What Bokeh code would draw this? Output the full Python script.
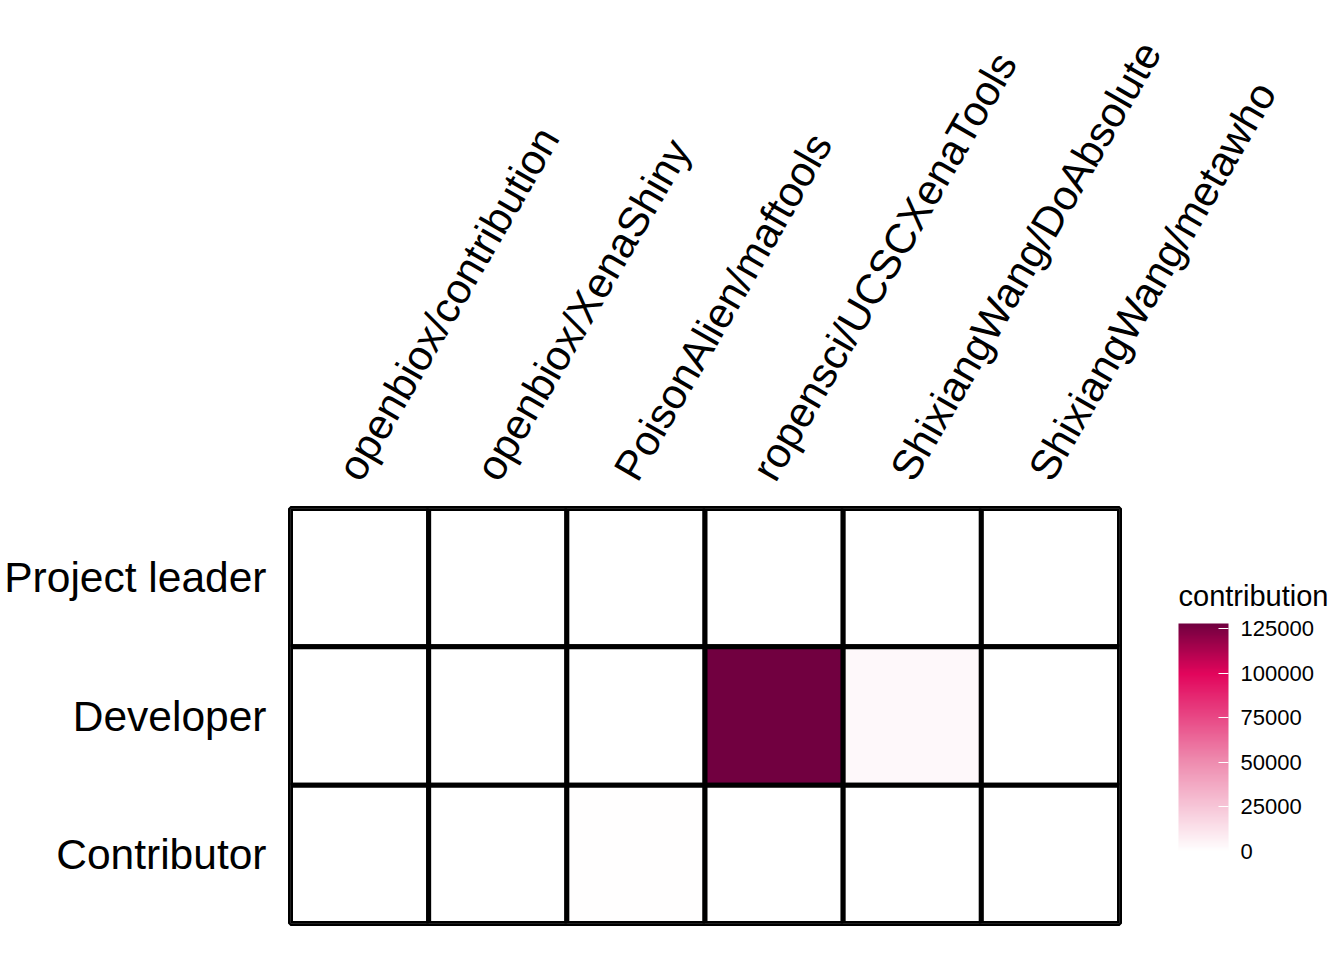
import math
import numpy as np
from bokeh.plotting import figure
from bokeh.models import (ColumnDataSource, LinearColorMapper, ColorBar, FixedTicker,
                          FactorRange, BasicTickFormatter, Label, Range1d)
from bokeh.embed import file_html
from bokeh.resources import INLINE
from bokeh.transform import transform

# ---- data ----
repos = ["openbiox/contribution", "openbiox/XenaShiny", "PoisonAlien/maftools",
         "ropensci/UCSCXenaTools", "ShixiangWang/DoAbsolute", "ShixiangWang/metawho"]
roles = ["Project leader", "Developer", "Contributor"]
project_leader = [0, 0, 0, 0, 0, 0]
developer = [0, 0, 0, 127800, 3000, 0]
contributor = [0, 0, 800, 0, 0, 0]
legend_ticks = [0, 25000, 50000, 75000, 100000, 125000]
legend_title = "contribution"

rows = {"Project leader": project_leader, "Developer": developer, "Contributor": contributor}
xs, ys, vals = [], [], []
for role in roles:
    for j, v in enumerate(rows[role]):
        xs.append(j + 0.5)          # column slot of repos[j]
        ys.append(role)
        vals.append(v)
source = ColumnDataSource(dict(x=xs, role=ys, value=vals))

# ---- palette ----
def hex2rgb(h):
    h = h.lstrip("#")
    return np.array([int(h[i:i + 2], 16) for i in (0, 2, 4)], dtype=float)

stops = [(0.0, "#FFFFFF"), (0.40, "#EE8AAE"), (0.78, "#E2055C"), (1.0, "#710040")]
palette = []
for t in np.linspace(0, 1, 256):
    for (t0, c0), (t1, c1) in zip(stops[:-1], stops[1:]):
        if t0 <= t <= t1:
            f = (t - t0) / (t1 - t0)
            c = hex2rgb(c0) * (1 - f) + hex2rgb(c1) * f
            palette.append("#%02x%02x%02x" % tuple(int(round(x)) for x in c))
            break

mapper = LinearColorMapper(palette=palette, low=0, high=max(vals))

p = figure(width=1344, height=960, output_backend="svg", toolbar_location=None,
           x_range=Range1d(0, len(repos)), y_range=FactorRange(*reversed(roles)),
           x_axis_location="above",
           min_border_left=290, min_border_right=225, min_border_top=508, min_border_bottom=37)

p.rect(x="x", y="role", width=1, height=1, source=source,
       fill_color=transform("value", mapper), line_color="black", line_width=5)

p.outline_line_color = "black"
p.outline_line_width = 5
p.grid.grid_line_color = None
p.background_fill_color = "white"
p.border_fill_color = "white"

# top labels: anchor nudged like ggplot's hjust for rotated text
nudge = 0.08
tick_pos = [i + 0.5 - nudge for i in range(len(repos))]
top = p.xaxis[0]
top.ticker = FixedTicker(ticks=tick_pos)
top.major_label_overrides = {t: r for t, r in zip(tick_pos, repos)}

for ax in (top, p.yaxis[0]):
    ax.axis_line_color = None
    ax.major_tick_line_color = None
    ax.minor_tick_line_color = None
    ax.major_tick_out = 0
    ax.major_tick_in = 0
    ax.major_label_text_font = "Liberation Sans"
    ax.major_label_text_color = "black"

top.major_label_text_font_size = "42px"
top.major_label_orientation = math.pi / 3
top.major_label_standoff = 32
p.yaxis[0].major_label_text_font_size = "42.5px"
p.yaxis[0].major_label_standoff = 24

cb = ColorBar(color_mapper=mapper, ticker=FixedTicker(ticks=legend_ticks),
              formatter=BasicTickFormatter(use_scientific=False),
              orientation="vertical",
              width=50, height=228, location=(888, 72), padding=0,
              major_label_text_font="Liberation Sans", major_label_text_font_size="22px",
              major_label_text_color="black", label_standoff=12,
              major_tick_line_color="white", major_tick_in=10, major_tick_out=0,
              minor_tick_line_color=None, bar_line_color=None,
              background_fill_alpha=0, border_line_color=None)
p.add_layout(cb, "center")

title = Label(x=59, y=328, x_units="screen", y_units="screen", text=legend_title,
              text_font="Liberation Sans", text_font_size="29px", text_color="black",
              text_baseline="alphabetic", text_align="left")
p.add_layout(title, "right")

open("out.html", "w").write(file_html(p, INLINE))
